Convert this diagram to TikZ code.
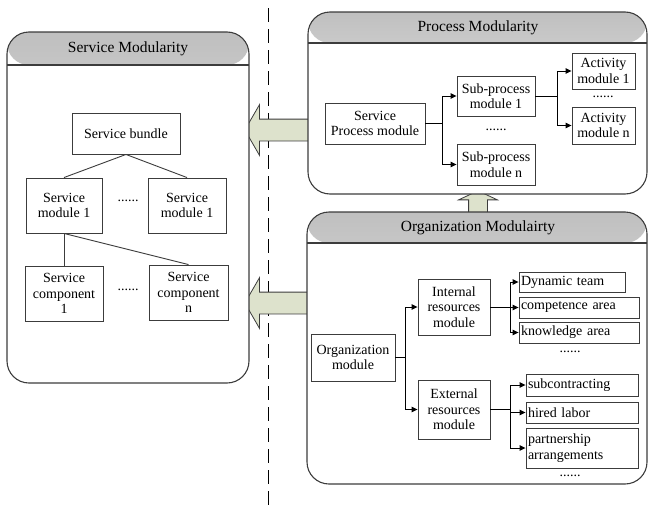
\documentclass[tikz,border=0pt]{standalone}
\usepackage{fontspec}
\setmainfont{Liberation Serif}
\usetikzlibrary{arrows.meta,shapes.arrows}

\definecolor{arrowfill}{RGB}{221,226,204}
\definecolor{edgegray}{RGB}{60,60,60}

\tikzset{
  box/.style={draw=edgegray, rectangle, line width=0.9pt, inner sep=1pt, align=center,
    font=\fontsize{14}{15.5}\selectfont},
  lbox/.style={box, align=left, inner xsep=2pt},
  dots/.style={font=\fontsize{14}{15.5}\selectfont, inner sep=0pt},
  title/.style={font=\fontsize{15.5}{17}\selectfont, inner sep=0pt},
  panel/.style={draw=edgegray, fill=white, rectangle, rounded corners=22pt, line width=1.1pt, inner sep=0pt,
    path picture={
      \shade[top color=gray!50, bottom color=gray!3]
        (path picture bounding box.north west) rectangle ([yshift=-#1]path picture bounding box.north east);
      \draw[edgegray, line width=1.1pt]
        ([yshift=-#1]path picture bounding box.north west) -- ([yshift=-#1]path picture bounding box.north east);
    }},
  bigarrow/.style={single arrow, draw=edgegray, fill=arrowfill, line width=0.8pt},
  conn/.style={draw=black, line width=0.9pt, -{Triangle[length=6pt,width=5.5pt]}},
  link/.style={draw=edgegray, line width=0.9pt},
  divider/.style={draw=black, line width=0.9pt, dash pattern=on 14pt off 7pt}
}

\begin{document}
\begin{tikzpicture}[x=1pt, y=-1pt]
        \useasboundingbox (0,0) rectangle (650,506);

        % Define the dividing line
        \coordinate (divtop) at (268,8);
        \coordinate (divbot) at (268,506);
        \draw[divider] (divtop) -- (divbot);

        % Define the big arrows between the parts
        \node[bigarrow, shape border rotate=180, inner sep=10.5pt, minimum height=66pt,
              single arrow head extend=14.5pt, single arrow tip angle=120] (A1) at (281,130) {};
        \node[bigarrow, shape border rotate=180, inner sep=10.5pt, minimum height=66pt,
              single arrow head extend=14.5pt, single arrow tip angle=120] (A2) at (281,303) {};
        \node[bigarrow, shape border rotate=90, inner sep=9pt, minimum height=26pt,
              single arrow head extend=10pt, single arrow tip angle=130] (A3) at (478,206) {};

        % Define the three parts as rounded panels
        \node[panel=33pt, minimum width=242pt, minimum height=351pt] (SMpanel) at (128,207.5) {};
        \node[panel=31pt, minimum width=339pt, minimum height=182pt] (PMpanel) at (477.5,103) {};
        \node[panel=31pt, minimum width=340pt, minimum height=272pt] (OMpanel) at (477,348) {};

        \node[title] (SMtitle) at (128,49) {Service Modularity};
        \node[title] (PMtitle) at (478,28) {Process Modularity};
        \node[title] (OMtitle) at (478,228) {Organization Modulairty};

        % Define service modules
        \node[box, minimum width=108pt, minimum height=41pt] (SB) at (126,133.5) {Service bundle};
        \node[box, minimum width=76pt, minimum height=55pt] (SM1) at (64,205.5) {Service\\module 1};
        \node[box, minimum width=78pt, minimum height=55pt] (SMn) at (187,205.5) {Service\\module 1};
        \node[dots] (d1) at (128,201) {......};
        \node[box, minimum width=78pt, minimum height=55pt] (SC1) at (64,293.5) {Service\\component\\1};
        \node[box, minimum width=79pt, minimum height=55pt] (SCn) at (188.5,292.5) {Service\\component\\n};
        \node[dots] (d2) at (128,290) {......};

        \draw[link] (SB.south) -- (SM1.north);
        \draw[link] (SB.south) -- (SMn.north);
        \draw[link] (SM1.south) -- (SC1.north);
        \draw[link] (SM1.south) -- (SCn.north);

        % Define process modules
        \node[box, minimum width=100pt, minimum height=41pt] (SPM) at (375,123.5) {Service\\Process module};
        \node[box, minimum width=78pt, minimum height=40pt] (SubP1) at (496,96) {Sub-process\\module 1};
        \node[box, minimum width=78pt, minimum height=41pt] (SubPn) at (496,164.5) {Sub-process\\module n};
        \node[dots] (d3) at (496,130) {......};
        \node[box, minimum width=63pt, minimum height=36pt] (AM1) at (603.5,71) {Activity\\module 1};
        \node[box, minimum width=63pt, minimum height=37pt] (AMn) at (603.5,125.5) {Activity\\module n};
        \node[dots] (d4) at (603,97) {......};

        \draw[conn] (SPM.east) -- ++(17,0) |- (SubP1.west);
        \draw[conn] (SPM.east) -- ++(17,0) |- (SubPn.west);
        \draw[conn] (SubP1.east) -- ++(22,0) |- (AM1.west);
        \draw[conn] (SubP1.east) -- ++(22,0) |- (AMn.west);

        % Define organization modules
        \node[box, minimum width=84pt, minimum height=47pt] (OM) at (353,357.5) {Organization\\module};
        \node[box, minimum width=72pt, minimum height=56pt] (IRM) at (454,307) {Internal\\resources\\module};
        \node[box, minimum width=72pt, minimum height=59pt] (ERM) at (454,409.5) {External\\resources\\module};

        \node[lbox, text width=102pt, minimum height=20pt] (DT) at (572,282) {Dynamic team};
        \node[lbox, text width=116pt, minimum height=21pt] (CA) at (579,307.5) {competence area};
        \node[lbox, text width=116pt, minimum height=21pt] (KA) at (579,332.5) {knowledge area};
        \node[dots] (d5) at (570,352) {......};
        \node[lbox, text width=108pt, minimum height=22pt] (SCt) at (582,385) {subcontracting};
        \node[lbox, text width=108pt, minimum height=21pt] (HL) at (582,412.5) {hired labor};
        \node[lbox, text width=108pt, minimum height=40pt] (PA) at (582,448) {partnership\\arrangements};
        \node[dots] (d6) at (570,476) {......};

        \draw[conn] (OM.east) -- ++(10,0) |- (IRM.west);
        \draw[conn] (OM.east) -- ++(10,0) |- (ERM.west);
        \draw[conn] (IRM.east) -- ++(20,0) |- (DT.west);
        \draw[conn] (IRM.east) -- ++(20,0) |- (CA.west);
        \draw[conn] (IRM.east) -- ++(20,0) |- (KA.west);
        \draw[conn] (ERM.east) -- ++(20,0) |- (SCt.west);
        \draw[conn] (ERM.east) -- ++(20,0) |- (HL.west);
        \draw[conn] (ERM.east) -- ++(20,0) |- (PA.west);
    \end{tikzpicture}
\end{document}
